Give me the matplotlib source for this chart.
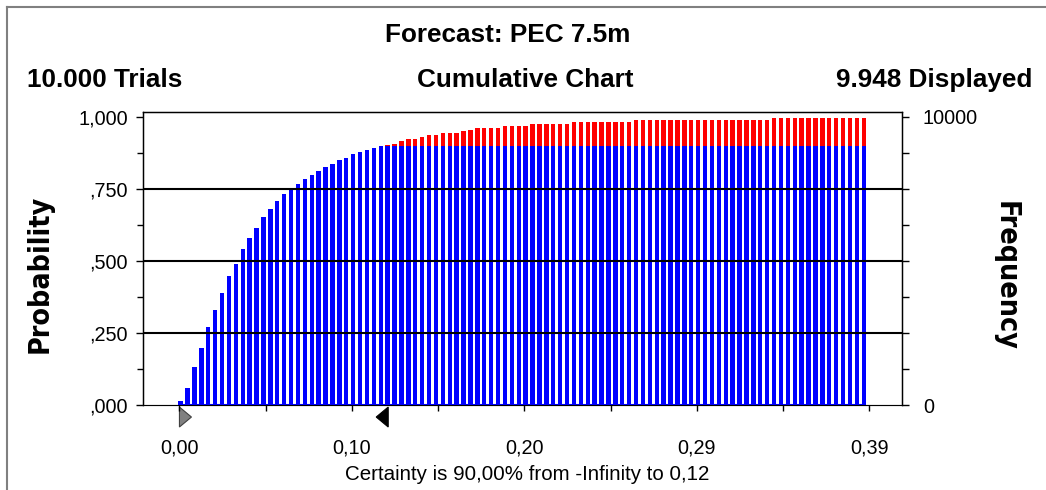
import matplotlib
matplotlib.use("Agg")
import matplotlib.pyplot as plt
from matplotlib.lines import Line2D
from matplotlib.patches import Polygon
from matplotlib.transforms import blended_transform_factory
import numpy as np

plt.rcParams['font.family'] = ['Liberation Sans', 'DejaVu Sans']

# forecast summary
forecast_name = 'PEC 7.5m'
trials = '10.000'
displayed = '9.948'
certainty_lo = 0.0      # -Infinity, pinned to the left edge of the range
certainty_hi = 0.118
certainty_pct = 0.90

# histogram bins (cumulative probability per bin)
bin_start = 0.0007
bin_step = 0.0039
cum_prob = [
    0.015, 0.058, 0.132, 0.198, 0.272, 0.330, 0.388, 0.447, 0.490, 0.543,
    0.579, 0.615, 0.652, 0.680, 0.709, 0.731, 0.746, 0.769, 0.784, 0.799,
    0.814, 0.828, 0.835, 0.851, 0.857, 0.872, 0.880, 0.887, 0.894, 0.900,
    0.903, 0.907, 0.915, 0.922, 0.923, 0.930, 0.937, 0.938, 0.945, 0.946,
    0.946, 0.953, 0.954, 0.960, 0.960, 0.960, 0.960, 0.967, 0.967, 0.967,
    0.967, 0.974, 0.974, 0.974, 0.974, 0.974, 0.974, 0.981, 0.981, 0.981,
    0.981, 0.981, 0.981, 0.981, 0.981, 0.981, 0.988, 0.988, 0.988, 0.988,
    0.988, 0.988, 0.988, 0.988, 0.988, 0.988, 0.988, 0.988, 0.988, 0.988,
    0.988, 0.988, 0.988, 0.988, 0.988, 0.988, 0.995, 0.995, 0.995, 0.995,
    0.995, 0.995, 0.995, 0.995, 0.995, 0.995, 0.995, 0.995, 0.995, 0.995,
]

x_ticks = [0.0, 0.0975, 0.195, 0.2925, 0.39]
x_tick_labels = ['0,00', '0,10', '0,20', '0,29', '0,39']
y_ticks = [0.0, 0.25, 0.5, 0.75, 1.0]
y_tick_labels = [',000', ',250', ',500', ',750', '1,000']
freq_max = 10000

cum = np.array(cum_prob)
xs = bin_start + bin_step * np.arange(len(cum))
blue_h = np.minimum(cum, certainty_pct)
red_h = cum - blue_h

fig = plt.figure(figsize=(10.46, 4.90), dpi=100)
ax = fig.add_axes([143 / 1046, 1 - 405 / 490, (902 - 143) / 1046, (405 - 111.5) / 490])

bw = bin_step * 0.64
ax.bar(xs, blue_h, width=bw, color='#0000ff', zorder=2)
ax.bar(xs, red_h, width=bw, bottom=blue_h, color='#ff0000', zorder=2)
ax.hlines(0, xs[0] - bw / 2, xs[-1] + bw / 2, color='#0000ff', lw=1.5, zorder=3)

for g in y_ticks[1:-1]:
    ax.axhline(g, color='black', lw=1.5, zorder=4)

ax.set_xlim(-0.0206, 0.4084)
ax.set_ylim(0, 1.019)

ax.set_xticks(x_ticks)
ax.set_xticklabels(x_tick_labels, fontsize=14.3)
ax.set_xticks([(a + b) / 2 for a, b in zip(x_ticks[:-1], x_ticks[1:])], minor=True)
ax.set_yticks(y_ticks)
ax.set_yticklabels(y_tick_labels, fontsize=14.3)
ax.set_yticks([(a + b) / 2 for a, b in zip(y_ticks[:-1], y_ticks[1:])], minor=True)
ax.tick_params(axis='x', which='both', direction='out', length=4, width=1, pad=20)
ax.tick_params(axis='y', which='major', direction='out', length=5, width=1, pad=6)
ax.tick_params(axis='y', which='minor', direction='out', length=4, width=1)

for s in ['left', 'top', 'right']:
    ax.spines[s].set_color('black')
    ax.spines[s].set_linewidth(1)
ax.spines['bottom'].set_color('#808080')

# frequency axis on the right
ax2 = ax.twinx()
ax2.set_ylim(0, freq_max * 1.019)
ax2.set_yticks([0, freq_max])
ax2.set_yticklabels(['0', str(freq_max)], fontsize=14.3)
ax2.set_yticks([freq_max * v for v in [0.125, 0.25, 0.375, 0.5, 0.625, 0.75, 0.875]], minor=True)
ax2.tick_params(axis='y', which='both', direction='out', length=5, width=1, pad=10)
ax2.spines['right'].set_color('black')

# certainty markers under the x axis
tr = blended_transform_factory(ax.transData, ax.transAxes)
tw = 12 / 1769
th0, th1 = -0.007, -0.075
lo = Polygon([[certainty_lo, th0], [certainty_lo + tw, (th0 + th1) / 2], [certainty_lo, th1]],
             closed=True, transform=tr, clip_on=False, facecolor='#808080', edgecolor='#404040', lw=0.8)
hi = Polygon([[certainty_hi, th0], [certainty_hi - tw, (th0 + th1) / 2], [certainty_hi, th1]],
             closed=True, transform=tr, clip_on=False, facecolor='black', edgecolor='black', lw=0.8)
ax.add_patch(lo)
ax.add_patch(hi)

# headings
head = dict(fontsize=18.8, fontweight='bold', va='center')
fig.text(508 / 1046, 1 - 35 / 490, 'Forecast: ' + forecast_name, ha='center', **head)
fig.text(27 / 1046, 1 - 80 / 490, trials + ' Trials', ha='left', **head)
fig.text(525 / 1046, 1 - 80 / 490, 'Cumulative Chart', ha='center', **head)
fig.text(1032 / 1046, 1 - 80 / 490, displayed + ' Displayed', ha='right', **head)

side = dict(fontsize=20.5, fontweight='bold', fontstretch='condensed', family='DejaVu Sans',
            ha='center', va='center')
fig.text(40 / 1046, 1 - 274 / 490, 'Probability', rotation=90, **side)
fig.text(1006 / 1046, 1 - 276 / 490, 'Frequency', rotation=270, **side)

fig.text(527 / 1046, 1 - 474 / 490,
         'Certainty is %s%% from -Infinity to %s' % (f'{certainty_pct * 100:.2f}'.replace('.', ','),
                                                    f'{certainty_hi:.2f}'.replace('.', ',')),
         ha='center', va='center', fontsize=14.8)

# outer frame (left and top edges)
fig.add_artist(Line2D([7 / 1046, 7 / 1046], [0, 1 - 7 / 490], color='#808080', lw=1.5))
fig.add_artist(Line2D([7 / 1046, 1], [1 - 7 / 490, 1 - 7 / 490], color='#808080', lw=1.5))

fig.savefig('out.png', dpi=100)
